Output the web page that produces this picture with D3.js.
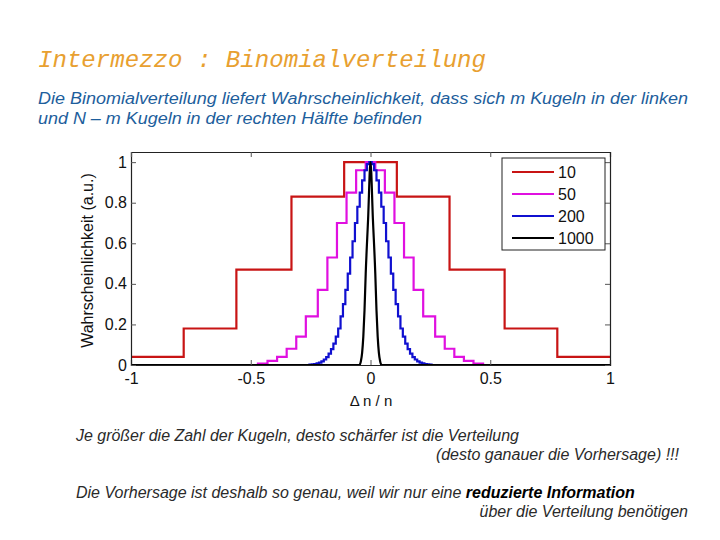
<!DOCTYPE html>
<html>
<head>
<meta charset="utf-8">
<script src="https://cdn.jsdelivr.net/npm/d3@7"></script>
<style>
  body { margin: 0; background: #fff; }
  svg { display: block; }
</style>
</head>
<body>
<div id="chart"></div>
<script>
// values
const seriesNames = ["10", "50", "200", "1000"];
const seriesColors = ["#c81414", "#e010e0", "#1010d0", "#000000"];

// N = 10 : step edges and levels
const edges10 = [-1, -0.78, -0.56, -0.33, -0.11, 0.11, 0.33, 0.56, 0.78, 1];
const levels10 = [0.04, 0.18, 0.47, 0.83, 1, 0.83, 0.47, 0.18, 0.04];

// N = 50 : step edges and levels
const edges50 = [-1, -0.47, -0.43, -0.39, -0.35, -0.31, -0.27, -0.22, -0.18, -0.14, -0.10, -0.06, -0.02,
                 0.02, 0.06, 0.10, 0.14, 0.18, 0.22, 0.27, 0.31, 0.35, 0.39, 0.43, 0.47, 1];
const levels50 = [0, 0.007, 0.02, 0.04, 0.08, 0.14, 0.24, 0.37, 0.53, 0.70, 0.85, 0.96, 1,
                  0.96, 0.85, 0.70, 0.53, 0.37, 0.24, 0.14, 0.08, 0.04, 0.02, 0.007, 0];

// N = 200 : fine steps
const x200 = [-1, -0.26, -0.25, -0.24, -0.23, -0.22, -0.21, -0.20, -0.19, -0.18, -0.17, -0.16, -0.15, -0.14,
              -0.13, -0.12, -0.11, -0.10, -0.09, -0.08, -0.07, -0.06, -0.05, -0.04, -0.03, -0.02, -0.01,
              0, 0.01, 0.02, 0.03, 0.04, 0.05, 0.06, 0.07, 0.08, 0.09, 0.10, 0.11, 0.12, 0.13,
              0.14, 0.15, 0.16, 0.17, 0.18, 0.19, 0.20, 0.21, 0.22, 0.23, 0.24, 0.25, 0.26, 1];
const y200 = [0, 0, 0.002, 0.003, 0.005, 0.008, 0.012, 0.018, 0.027, 0.039, 0.056, 0.078, 0.105, 0.14,
              0.18, 0.24, 0.30, 0.37, 0.45, 0.53, 0.61, 0.70, 0.78, 0.85, 0.91, 0.96, 0.99,
              1, 0.99, 0.96, 0.91, 0.85, 0.78, 0.70, 0.61, 0.53, 0.45, 0.37, 0.30, 0.24, 0.18,
              0.14, 0.105, 0.078, 0.056, 0.039, 0.027, 0.018, 0.012, 0.008, 0.005, 0.003, 0.002, 0, 0];

// N = 1000 : narrow peak
const x1000 = [-1, -0.046, -0.04, -0.035, -0.03, -0.025, -0.02, -0.01, 0, 0.01, 0.02, 0.025, 0.03, 0.035, 0.04, 0.046, 1];
const y1000 = [0, 0, 0.02, 0.06, 0.14, 0.27, 0.45, 0.72, 1, 0.72, 0.45, 0.27, 0.14, 0.06, 0.02, 0, 0];

const xTicks = [-1, -0.5, 0, 0.5, 1];
const yTicks = [0, 0.2, 0.4, 0.6, 0.8, 1];

const width = 720, height = 540;

const svg = d3.select("#chart")
    .append("svg")
    .attr("width", width)
    .attr("height", height);

// title + intro text
svg.append("text")
    .attr("x", 38).attr("y", 67)
    .attr("font-family", "Liberation Mono, monospace")
    .attr("font-style", "italic")
    .attr("font-size", 23)
    .attr("fill", "#e8a030")
    .attr("textLength", 448)
    .attr("lengthAdjust", "spacingAndGlyphs")
    .text("Intermezzo : Binomialverteilung");

const intro = [
    { text: "Die Binomialverteilung liefert Wahrscheinlichkeit, dass sich m Kugeln in der linken", y: 104, len: 650 },
    { text: "und N \u2013 m Kugeln in der rechten Hälfte befinden", y: 124, len: 384 }
];
svg.selectAll(".intro")
    .data(intro)
    .enter()
    .append("text")
    .attr("class", "intro")
    .attr("x", 38)
    .attr("y", d => d.y)
    .attr("font-family", "Liberation Sans, Arial, sans-serif")
    .attr("font-style", "italic")
    .attr("font-size", 16)
    .attr("fill", "#1d5e9c")
    .attr("textLength", d => d.len)
    .attr("lengthAdjust", "spacingAndGlyphs")
    .text(d => d.text);

// plot area
const x = d3.scaleLinear().domain([-1, 1]).range([131, 610]);
const y = d3.scaleLinear().domain([0, 1.05]).range([365, 152]);

const plot = svg.append("g");

plot.append("rect")
    .attr("x", x(-1)).attr("y", y(1.05))
    .attr("width", x(1) - x(-1)).attr("height", y(0) - y(1.05))
    .attr("fill", "#fff");

// step lines
const stepLine = d3.line()
    .x(d => x(d[0]))
    .y(d => y(d[1]))
    .curve(d3.curveStepAfter);

function stairs(edges, levels) {
    const pts = levels.map((v, i) => [edges[i], v]);
    pts.push([edges[edges.length - 1], levels[levels.length - 1]]);
    return pts;
}

const lines = [
    { pts: stairs(edges10, levels10), curve: d3.curveStepAfter },
    { pts: stairs(edges50, levels50), curve: d3.curveStepAfter },
    { pts: x200.map((v, i) => [v, y200[i]]), curve: d3.curveStep },
    { pts: x1000.map((v, i) => [v, y1000[i]]), curve: d3.curveMonotoneX }
];

plot.selectAll(".series")
    .data(lines)
    .enter()
    .append("path")
    .attr("class", "series")
    .attr("fill", "none")
    .attr("stroke", (d, i) => seriesColors[i])
    .attr("stroke-width", 2.2)
    .attr("stroke-linejoin", "miter")
    .attr("d", d => stepLine.curve(d.curve)(d.pts));

// axes, ticks point inwards like matlab
const axisFont = "Liberation Sans, Arial, sans-serif";
const plain = d => String(d); // keep the ascii hyphen for negatives

const gx = plot.append("g")
    .attr("transform", `translate(0,${y(0)})`)
    .call(d3.axisBottom(x).tickValues(xTicks).tickSize(-5).tickPadding(8).tickFormat(plain));
const gy = plot.append("g")
    .attr("transform", `translate(${x(-1)},0)`)
    .call(d3.axisLeft(y).tickValues(yTicks).tickSize(-5).tickPadding(4).tickFormat(plain));
const gt = plot.append("g")
    .attr("transform", `translate(0,${y(1.05)})`)
    .call(d3.axisTop(x).tickValues(xTicks).tickSize(-5).tickFormat(""));
const gr = plot.append("g")
    .attr("transform", `translate(${x(1)},0)`)
    .call(d3.axisRight(y).tickValues(yTicks).tickSize(-5).tickFormat(""));

[gx, gy, gt, gr].forEach(g => {
    g.select(".domain").attr("stroke", "#222").attr("stroke-width", 1.2);
    g.selectAll(".tick line").attr("stroke", "#555");
    g.selectAll(".tick text")
        .attr("font-family", axisFont)
        .attr("font-size", 16)
        .attr("fill", "#111");
});

// axis titles
svg.append("text")
    .attr("x", 371).attr("y", 406)
    .attr("text-anchor", "middle")
    .attr("font-family", axisFont)
    .attr("font-size", 15)
    .attr("fill", "#111")
    .text("\u0394 n / n");

svg.append("text")
    .attr("transform", `translate(93,${(y(0) + y(1.05)) / 2 + 2}) rotate(-90)`)
    .attr("text-anchor", "middle")
    .attr("font-family", axisFont)
    .attr("font-size", 16)
    .attr("fill", "#111")
    .text("Wahrscheinlichkeit (a.u.)");

// legend
const legend = svg.append("g").attr("transform", "translate(502,158)");
legend.append("rect")
    .attr("width", 103).attr("height", 92)
    .attr("fill", "#fff")
    .attr("stroke", "#222")
    .attr("stroke-width", 1);

const item = legend.selectAll(".item")
    .data(seriesNames)
    .enter()
    .append("g")
    .attr("transform", (d, i) => `translate(0,${14 + i * 22})`);

item.append("line")
    .attr("x1", 10).attr("x2", 52)
    .attr("stroke", (d, i) => seriesColors[i])
    .attr("stroke-width", 2.2);

item.append("text")
    .attr("x", 56).attr("y", 6)
    .attr("font-family", axisFont)
    .attr("font-size", 16)
    .attr("fill", "#111")
    .text(d => d);

// notes below the chart
const noteFont = "Liberation Sans, Arial, sans-serif";

svg.append("text")
    .attr("x", 76).attr("y", 441)
    .attr("font-family", noteFont).attr("font-style", "italic")
    .attr("font-size", 16).attr("fill", "#2a2a2a")
    .attr("textLength", 443).attr("lengthAdjust", "spacingAndGlyphs")
    .text("Je größer die Zahl der Kugeln, desto schärfer ist die Verteilung");

svg.append("text")
    .attr("x", 679).attr("y", 460)
    .attr("text-anchor", "end")
    .attr("font-family", noteFont).attr("font-style", "italic")
    .attr("font-size", 16).attr("fill", "#2a2a2a")
    .text("(desto ganauer die Vorhersage) !!!");

const note3 = svg.append("text")
    .attr("x", 76).attr("y", 498)
    .attr("font-family", noteFont).attr("font-style", "italic")
    .attr("font-size", 16).attr("fill", "#2a2a2a");
note3.append("tspan").text("Die Vorhersage ist deshalb so genau, weil wir nur eine ");
note3.append("tspan").attr("font-weight", "bold").attr("fill", "#000").text("reduzierte Information");

svg.append("text")
    .attr("x", 688).attr("y", 517)
    .attr("text-anchor", "end")
    .attr("font-family", noteFont).attr("font-style", "italic")
    .attr("font-size", 16).attr("fill", "#2a2a2a")
    .text("über die Verteilung benötigen");
</script>
</body>
</html>
